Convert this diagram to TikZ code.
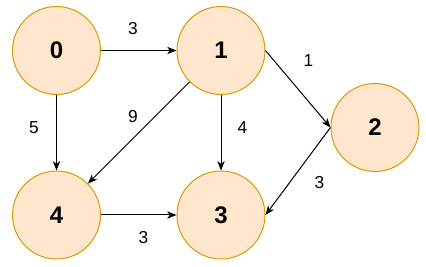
\documentclass[tikz,border=0pt]{standalone}
\usepackage{fontspec}
\setmainfont{Liberation Sans}
\usetikzlibrary{arrows.meta}
\definecolor{nodefill}{HTML}{FFE6CC}
\definecolor{nodeline}{HTML}{D79B00}
\begin{document}
\begin{tikzpicture}[x=0.75pt,y=-0.75pt,
  vert/.style={circle,draw=nodeline,fill=nodefill,line width=0.75pt,minimum size=66pt,inner sep=0pt,font=\fontsize{18}{18}\selectfont\bfseries},
  edge/.style={-{Stealth[length=7pt,width=5.5pt,inset=2pt]},line width=0.75pt},
  wlab/.style={font=\fontsize{13}{13}\selectfont,inner sep=0pt}]
\useasboundingbox (0,0) rectangle (426,267);
\node[vert] (n0) at (56.5,50.5) {0};
\node[vert] (n1) at (221,50.5) {1};
\node[vert] (n2) at (375,127.5) {2};
\node[vert] (n4) at (56.5,215) {4};
\node[vert] (n3) at (221,215) {3};
\draw[edge] (n0) -- (n1);
\draw[edge] (n0) -- (n4);
\draw[edge] (n1) -- (n4);
\draw[edge] (n1) -- (n3);
\draw[edge] (n1.east) -- (n2.west);
\draw[edge] (n2.west) -- (n3.east);
\draw[edge] (n4) -- (n3);
\node[wlab] (l01) at (133,28.5) {3};
\node[wlab] (l04) at (34,128) {5};
\node[wlab] (l14) at (133,116.5) {9};
\node[wlab] (l13) at (242.5,127.5) {4};
\node[wlab] (l12) at (308.5,61) {1};
\node[wlab] (l23) at (319.5,183) {3};
\node[wlab] (l43) at (143.5,237.5) {3};
\end{tikzpicture}
\end{document}
